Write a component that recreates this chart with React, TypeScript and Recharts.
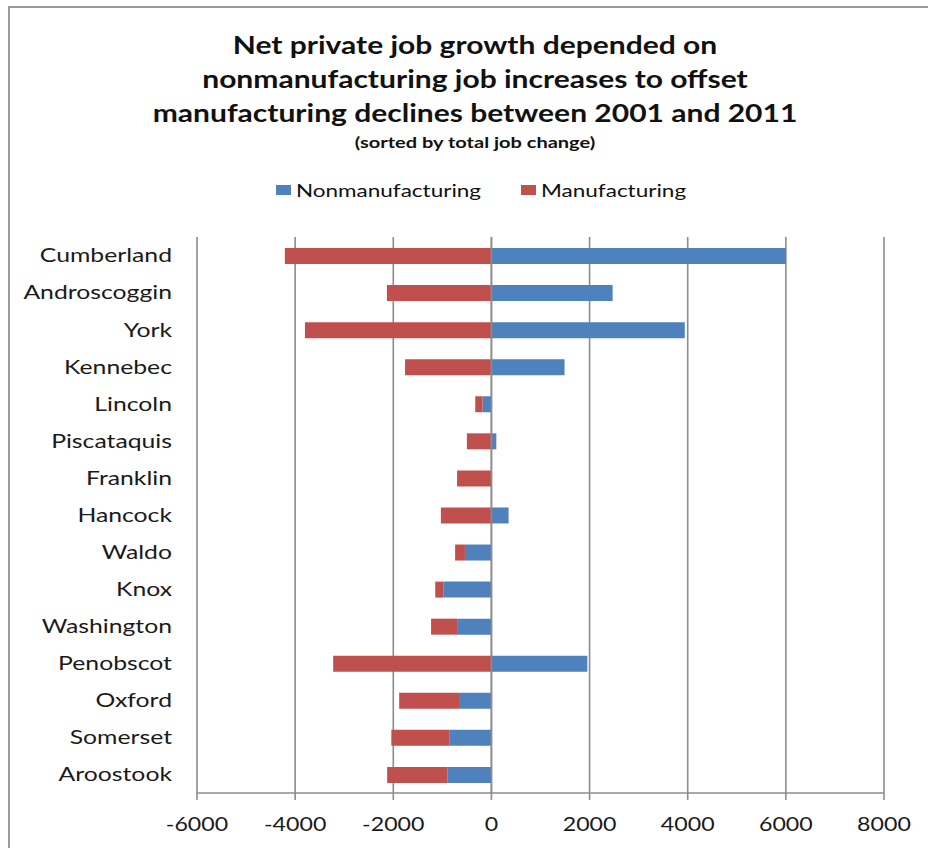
import React from 'react';
import { BarChart, Bar, XAxis, YAxis, CartesianGrid, ReferenceLine } from 'recharts';

const categories = ['Cumberland', 'Androscoggin', 'York', 'Kennebec', 'Lincoln', 'Piscataquis', 'Franklin', 'Hancock', 'Waldo', 'Knox', 'Washington', 'Penobscot', 'Oxford', 'Somerset', 'Aroostook'];
const nonmanufacturing = [6000, 2470, 3940, 1490, -180, 100, 0, 350, -540, -980, -700, 1955, -660, -860, -900];
const manufacturing = [-4210, -2130, -3800, -1760, -150, -500, -700, -1030, -200, -165, -530, -3225, -1220, -1180, -1225];
const xTicks = [-6000, -4000, -2000, 0, 2000, 4000, 6000, 8000];
const titleLines = ['Net private job growth depended on', 'nonmanufacturing job increases to offset', 'manufacturing declines between 2001 and 2011'];
const subtitle = '(sorted by total job change)';
const seriesNames = ['Nonmanufacturing', 'Manufacturing'];
const seriesColors = ['#4F81BD', '#C0504D'];

const data = categories.map((name, i) => ({
  name,
  Nonmanufacturing: nonmanufacturing[i],
  Manufacturing: manufacturing[i],
}));

const FONT = 'Lato, sans-serif';
const SX = 1.22;
const TSX = 1.25;

function YTick(props: any) {
  const { x, y, payload } = props;
  return (
    <text transform={`translate(${x},${y}) scale(1.27,1)`} textAnchor="end" dy="0.35em" fontFamily={FONT} fontSize={19.5} fill="#1a1a1a">
      {payload.value}
    </text>
  );
}

function XTick(props: any) {
  const { x, y, payload } = props;
  return (
    <text transform={`translate(${x},${y}) scale(${SX},1)`} textAnchor="middle" dy="0.71em" fontFamily={FONT} fontSize={19} fill="#1a1a1a">
      {payload.value}
    </text>
  );
}

const stretch = (k: number): React.CSSProperties => ({
  position: 'absolute',
  left: 11,
  width: 928,
  textAlign: 'center',
  transform: `scaleX(${k})`,
  transformOrigin: '464px 0',
  whiteSpace: 'nowrap',
  fontFamily: FONT,
  color: '#111',
});

export default function App() {
  return (
    <div style={{ position: 'relative', width: 928, height: 848, background: '#fff', overflow: 'hidden' }}>
      <style>{'html,body{margin:0;padding:0;overflow:hidden;}'}</style>
      <svg width={928} height={848} style={{ position: 'absolute', left: 0, top: 0 }}>
        <path d="M9 848 V7 H928" fill="none" stroke="#9a9a9a" strokeWidth={2} />
      </svg>
      {titleLines.map((t, i) => (
        <div key={i} style={{ ...stretch(TSX), top: 28 + i * 34, fontSize: 24, fontWeight: 700, lineHeight: '34px' }}>{t}</div>
      ))}
      <div style={{ ...stretch(1.25), top: 131, fontSize: 16, fontWeight: 700, lineHeight: '22px' }}>{subtitle}</div>
      <div style={{ ...stretch(1.25), left: 17, top: 178, fontSize: 18, lineHeight: '24px' }}>
        {seriesNames.map((n, i) => (
          <span key={n} style={{ marginLeft: i ? 32 : 0 }}>
            <span style={{ display: 'inline-block', width: 12, height: 10, background: seriesColors[i], marginRight: 4, verticalAlign: 'middle', position: 'relative', top: -2 }} />
            {n}
          </span>
        ))}
      </div>
      <div style={{ position: 'absolute', left: 0, top: 0 }}>
        <BarChart
          width={928}
          height={848}
          data={data}
          layout="vertical"
          stackOffset="sign"
          margin={{ top: 237, right: 44, bottom: 15, left: 7 }}
        >
          <CartesianGrid horizontal={false} vertical stroke="#8c8c8c" strokeWidth={1.6} />
          <XAxis
            type="number"
            domain={[-6000, 8000]}
            ticks={xTicks}
            interval={0}
            height={40}
            axisLine={{ stroke: '#8c8c8c', strokeWidth: 1.6 }}
            tickLine={{ stroke: '#8c8c8c', strokeWidth: 1.6 }}
            tickSize={7}
            tickMargin={17}
            tick={<XTick />}
          />
          <YAxis
            type="category"
            dataKey="name"
            width={190}
            axisLine={false}
            tickLine={false}
            tickSize={0}
            tickMargin={25}
            interval={0}
            tick={<YTick />}
          />
          {seriesNames.map((n, i) => (
            <Bar key={n} dataKey={n} stackId="a" fill={seriesColors[i]} barSize={16} isAnimationActive={false} />
          ))}
          <ReferenceLine x={0} stroke="#8c8c8c" strokeWidth={1.6} />
        </BarChart>
      </div>
    </div>
  );
}
